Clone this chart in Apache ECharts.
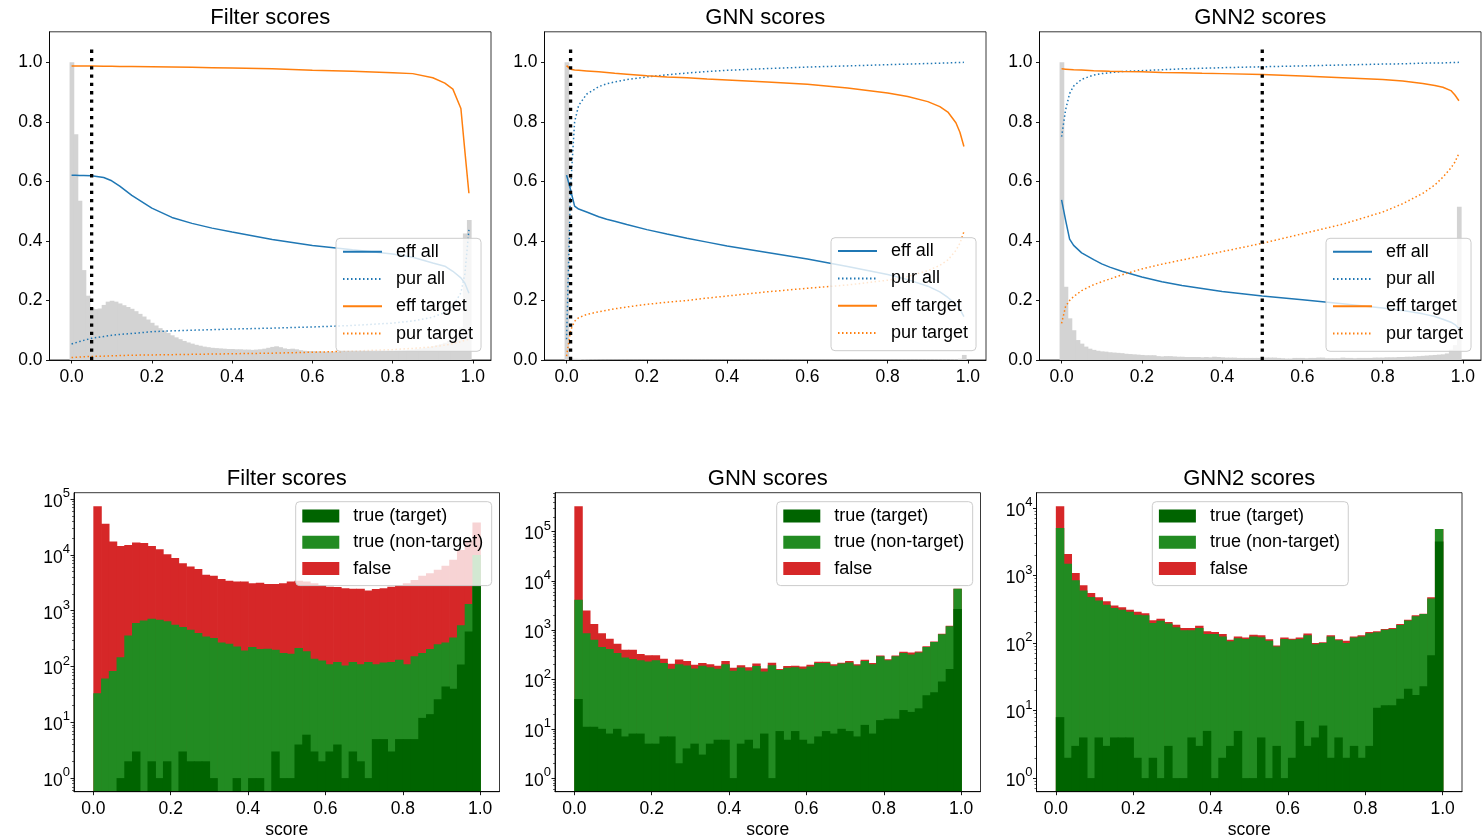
<!DOCTYPE html>
<html><head><meta charset="utf-8">
<script src="https://cdn.jsdelivr.net/npm/echarts@6/dist/echarts.min.js"></script>
<style>html,body{margin:0;padding:0;background:#fff}#c{width:1483px;height:838px}</style>
</head><body><div id="c"></div>
<script>
// ---------------- DATA ----------------
const panelTitles = ['Filter scores', 'GNN scores', 'GNN2 scores'];
const lineNames = ['eff all', 'pur all', 'eff target', 'pur target'];
const histNames = ['true (target)', 'true (non-target)', 'false'];
const xTicks = [0, 0.2, 0.4, 0.6, 0.8, 1.0];
const yTicksTop = [0, 0.2, 0.4, 0.6, 0.8, 1.0];
const logTicks = [1, 10, 100, 1000, 10000, 100000];

// score thresholds at which the curves are read
const cuts = [0, 0.01, 0.02, 0.03, 0.05, 0.08, 0.1, 0.12, 0.15, 0.2, 0.25, 0.3, 0.35, 0.4, 0.5, 0.6, 0.7, 0.8, 0.85, 0.9, 0.93, 0.95, 0.97, 0.98, 0.99];
const thresholds = [0.05, 0.01, 0.5];

const filterEffAll = [0.621, 0.621, 0.620, 0.620, 0.619, 0.613, 0.602, 0.584, 0.553, 0.510, 0.479, 0.459, 0.443, 0.430, 0.405, 0.385, 0.370, 0.356, 0.345, 0.326, 0.315, 0.298, 0.276, 0.258, 0.224];
const filterPurAll = [0.054, 0.058, 0.062, 0.066, 0.073, 0.079, 0.083, 0.086, 0.089, 0.095, 0.098, 0.100, 0.102, 0.104, 0.107, 0.111, 0.116, 0.124, 0.131, 0.144, 0.160, 0.180, 0.226, 0.290, 0.437];
const filterEffTgt = [0.988, 0.988, 0.988, 0.988, 0.988, 0.987, 0.987, 0.986, 0.986, 0.985, 0.984, 0.983, 0.982, 0.981, 0.978, 0.973, 0.970, 0.965, 0.962, 0.948, 0.930, 0.910, 0.845, 0.700, 0.560];
const filterPurTgt = [0.008, 0.009, 0.010, 0.011, 0.012, 0.013, 0.014, 0.015, 0.016, 0.017, 0.018, 0.019, 0.020, 0.021, 0.023, 0.026, 0.030, 0.035, 0.039, 0.044, 0.050, 0.055, 0.062, 0.066, 0.070];

const gnnEffAll = [0.621, 0.571, 0.517, 0.507, 0.497, 0.481, 0.473, 0.466, 0.455, 0.438, 0.423, 0.409, 0.396, 0.383, 0.361, 0.339, 0.314, 0.287, 0.270, 0.248, 0.229, 0.210, 0.187, 0.170, 0.146];
const gnnPurAll = [0.070, 0.580, 0.800, 0.855, 0.893, 0.918, 0.928, 0.934, 0.942, 0.951, 0.958, 0.964, 0.969, 0.973, 0.979, 0.984, 0.988, 0.992, 0.994, 0.996, 0.997, 0.998, 0.999, 0.999, 1.000];
const gnnEffTgt = [0.989, 0.977, 0.974, 0.973, 0.971, 0.968, 0.966, 0.963, 0.960, 0.955, 0.951, 0.948, 0.944, 0.941, 0.934, 0.926, 0.914, 0.897, 0.885, 0.868, 0.851, 0.833, 0.797, 0.765, 0.717];
const gnnPurTgt = [0.013, 0.100, 0.130, 0.142, 0.153, 0.162, 0.167, 0.172, 0.178, 0.187, 0.194, 0.200, 0.208, 0.215, 0.229, 0.241, 0.252, 0.268, 0.281, 0.300, 0.318, 0.336, 0.368, 0.392, 0.431];

const gnn2EffAll = [0.538, 0.470, 0.406, 0.385, 0.360, 0.337, 0.323, 0.312, 0.298, 0.279, 0.263, 0.250, 0.240, 0.230, 0.215, 0.202, 0.189, 0.175, 0.166, 0.155, 0.146, 0.137, 0.127, 0.119, 0.106];
const gnn2PurAll = [0.750, 0.840, 0.895, 0.920, 0.943, 0.957, 0.962, 0.965, 0.969, 0.972, 0.975, 0.978, 0.980, 0.982, 0.985, 0.988, 0.991, 0.994, 0.995, 0.997, 0.998, 0.998, 0.999, 0.999, 1.000];
const gnn2EffTgt = [0.978, 0.977, 0.976, 0.975, 0.974, 0.972, 0.971, 0.970, 0.969, 0.968, 0.966, 0.965, 0.963, 0.962, 0.959, 0.954, 0.948, 0.942, 0.937, 0.929, 0.922, 0.916, 0.905, 0.890, 0.871];
const gnn2PurTgt = [0.123, 0.180, 0.200, 0.213, 0.233, 0.253, 0.263, 0.272, 0.286, 0.306, 0.322, 0.336, 0.350, 0.364, 0.392, 0.424, 0.456, 0.497, 0.525, 0.560, 0.588, 0.614, 0.645, 0.665, 0.694];

// normalised score histograms (100 bins of 0.01, centred at 0.00 ... 0.99)
const filterHist = [1.000, 0.758, 0.535, 0.302, 0.216, 0.175, 0.171, 0.173, 0.185, 0.196,
  0.199, 0.196, 0.190, 0.184, 0.178, 0.172, 0.164, 0.155, 0.146, 0.136,
  0.125, 0.116, 0.107, 0.099, 0.091, 0.083, 0.076, 0.070, 0.064, 0.059,
  0.055, 0.051, 0.048, 0.045, 0.043, 0.041, 0.040, 0.039, 0.038, 0.037,
  0.037, 0.036, 0.036, 0.035, 0.035, 0.034, 0.035, 0.036, 0.038, 0.041,
  0.044, 0.046, 0.043, 0.039, 0.037, 0.038, 0.036, 0.033, 0.031, 0.030,
  0.030, 0.029, 0.029, 0.028, 0.028, 0.028, 0.028, 0.028, 0.027, 0.027,
  0.027, 0.027, 0.027, 0.028, 0.028, 0.028, 0.028, 0.029, 0.029, 0.030,
  0.030, 0.031, 0.032, 0.033, 0.034, 0.035, 0.037, 0.039, 0.041, 0.044,
  0.047, 0.050, 0.054, 0.058, 0.064, 0.072, 0.085, 0.110, 0.425, 0.470];
const gnnHist = [1.000, 0.005, 0.004, 0.0037, 0.0022, 0.0019, 0.0014, 0.0013, 0.0010, 0.0009,
  0.0008, 0.0007, 0.0007, 0.0006, 0.0006, 0.0005, 0.0005, 0.0005, 0.0004, 0.0004,
  0.0004, 0.0004, 0.0004, 0.0004, 0.0003, 0.0003, 0.0003, 0.0003, 0.0003, 0.0003,
  0.0003, 0.0003, 0.0003, 0.0003, 0.0003, 0.0003, 0.0003, 0.0003, 0.0003, 0.0003,
  0.0003, 0.0003, 0.0003, 0.0003, 0.0003, 0.0003, 0.0003, 0.0003, 0.0003, 0.0003,
  0.0003, 0.0003, 0.0003, 0.0003, 0.0003, 0.0003, 0.0003, 0.0003, 0.0003, 0.0003,
  0.0003, 0.0003, 0.0003, 0.0003, 0.0003, 0.0003, 0.0003, 0.0003, 0.0003, 0.0003,
  0.0003, 0.0003, 0.0003, 0.0003, 0.0003, 0.0003, 0.0003, 0.0003, 0.0004, 0.0004,
  0.0004, 0.0004, 0.0004, 0.0005, 0.0005, 0.0005, 0.0006, 0.0006, 0.0007, 0.0007,
  0.0008, 0.0009, 0.0010, 0.0011, 0.0013, 0.0013, 0.0018, 0.0020, 0.0042, 0.0170];
const gnn2Hist = [1.000, 0.246, 0.140, 0.100, 0.067, 0.055, 0.045, 0.038, 0.034, 0.031,
  0.029, 0.028, 0.026, 0.025, 0.024, 0.023, 0.021, 0.020, 0.019, 0.018,
  0.017, 0.016, 0.016, 0.016, 0.013, 0.012, 0.013, 0.013, 0.012, 0.011,
  0.011, 0.010, 0.010, 0.010, 0.010, 0.009, 0.010, 0.009, 0.011, 0.010,
  0.009, 0.008, 0.008, 0.008, 0.007, 0.007, 0.007, 0.007, 0.007, 0.007,
  0.008, 0.008, 0.008, 0.008, 0.007, 0.006, 0.005, 0.005, 0.007, 0.007,
  0.007, 0.006, 0.007, 0.007, 0.008, 0.008, 0.006, 0.006, 0.006, 0.006,
  0.008, 0.007, 0.007, 0.006, 0.007, 0.007, 0.007, 0.007, 0.008, 0.008,
  0.008, 0.009, 0.009, 0.009, 0.010, 0.010, 0.011, 0.011, 0.012, 0.013,
  0.014, 0.015, 0.016, 0.017, 0.018, 0.019, 0.022, 0.035, 0.050, 0.515];

// stacked score histograms (50 bins of 0.02); levels read as the tops of each stacked layer
const filterTarget = [0, 0, 0, 1, 2, 3, 0, 2, 1, 2, 0, 3, 2, 2, 2, 1, 0, 0, 1, 0, 1, 1, 0, 3, 1, 1, 4, 6, 3, 2, 3, 4, 1, 3, 2, 1, 5, 5, 3, 5, 5, 5, 12, 14, 26, 44, 40, 109, 425, 2900];
const filterTrueTop = [33, 61, 83, 147, 360, 600, 670, 720, 690, 645, 560, 510, 455, 400, 345, 323, 270, 255, 228, 194, 223, 205, 208, 199, 174, 170, 214, 187, 138, 128, 110, 121, 104, 121, 110, 121, 110, 118, 121, 132, 110, 152, 174, 205, 250, 270, 330, 550, 1320, 10000];
const filterAllTop = [74300, 36000, 17400, 14500, 15100, 16600, 16300, 14500, 12600, 10300, 8800, 7100, 6200, 5600, 4400, 4250, 3700, 3450, 3330, 3330, 3100, 3180, 3020, 3020, 3100, 3330, 3450, 3330, 3100, 2900, 2700, 2650, 2520, 2470, 2470, 2300, 2450, 2520, 2700, 2900, 3100, 3560, 4250, 4700, 5400, 6400, 8200, 12300, 18200, 38000];

const gnnTarget = [40, 11, 11, 10, 8, 10, 7, 8, 8, 5, 5, 7, 7, 2, 4, 5, 3, 5, 6, 6, 1, 5, 6, 4, 8, 1, 9, 6, 9, 6, 5, 7, 9, 8, 10, 9, 7, 12, 8, 15, 16, 16, 24, 22, 26, 48, 55, 91, 163, 2700];
const gnnTrueTop = [4150, 870, 640, 455, 415, 345, 280, 260, 245, 232, 245, 215, 165, 203, 193, 167, 190, 178, 165, 205, 150, 176, 153, 187, 146, 195, 155, 174, 178, 165, 184, 215, 215, 190, 210, 222, 193, 236, 205, 295, 245, 295, 345, 323, 355, 455, 575, 830, 1200, 6900];
const gnnAllTop = [326000, 2500, 1330, 870, 670, 530, 400, 400, 330, 310, 310, 265, 208, 255, 236, 200, 215, 203, 190, 236, 173, 195, 178, 212, 168, 218, 163, 187, 190, 183, 200, 228, 228, 205, 219, 236, 205, 251, 215, 307, 258, 307, 366, 355, 370, 470, 590, 850, 1230, 6900];

const gnn2Target = [8, 2, 3, 4, 1, 4, 3, 4, 4, 4, 2, 1, 2, 1, 3, 1, 1, 4, 3, 5, 1, 2, 3, 5, 1, 1, 4, 1, 3, 1, 2, 7, 3, 4, 6, 2, 4, 2, 3, 2, 3, 11, 12, 12, 15, 21, 17, 23, 66, 3200];
const gnn2TrueTop = [5050, 1500, 850, 600, 480, 425, 370, 330, 310, 290, 263, 257, 198, 214, 194, 172, 155, 155, 167, 136, 136, 125, 106, 118, 115, 125, 122, 108, 89, 115, 112, 115, 130, 96, 100, 125, 110, 100, 121, 125, 140, 144, 158, 162, 185, 215, 250, 270, 455, 4900];
const gnn2AllTop = [10600, 2080, 1090, 715, 550, 475, 415, 360, 340, 310, 290, 277, 217, 230, 205, 187, 167, 167, 180, 149, 146, 136, 112, 125, 121, 133, 130, 114, 92, 121, 116, 121, 138, 100, 103, 130, 114, 108, 125, 130, 146, 149, 162, 167, 191, 222, 257, 272, 475, 4900];

// ---------------- STYLE / LAYOUT ----------------
const FF = "'Liberation Sans', Arial, Helvetica, sans-serif";
const C_BLUE = '#1f77b4', C_ORANGE = '#ff7f0e', C_GRAY = '#d3d3d3';
const C_DKGREEN = '#006400', C_GREEN = '#228b22', C_RED = '#d62728';
const DOT = [1.5, 2.5];

const topLefts = [49.5, 544.5, 1039.5];
const topGrid = { top: 31.8, width: 441.5, height: 328.2 };
const botLefts = [74, 555, 1036.5];
const botGrid = { top: 492.7, width: 425.5, height: 299 };
const topLegendPos = [[336, 238.3], [831, 237.7], [1326, 238.3]];
const botLegendPos = [[295.7, 501.7], [776.7, 501.7], [1152.3, 501.7]];

const topLines = [
  [filterEffAll, filterPurAll, filterEffTgt, filterPurTgt],
  [gnnEffAll, gnnPurAll, gnnEffTgt, gnnPurTgt],
  [gnn2EffAll, gnn2PurAll, gnn2EffTgt, gnn2PurTgt]
];
const topHists = [filterHist, gnnHist, gnn2Hist];
const botStacks = [
  [filterTarget, filterTrueTop, filterAllTop],
  [gnnTarget, gnnTrueTop, gnnAllTop],
  [gnn2Target, gnn2TrueTop, gnn2AllTop]
];
const lineStyles = [
  { color: C_BLUE, type: 'solid' }, { color: C_BLUE, type: DOT },
  { color: C_ORANGE, type: 'solid' }, { color: C_ORANGE, type: DOT }
];

// ---------------- BUILD ----------------
const grid = [], xAxis = [], yAxis = [], series = [], legend = [], title = [];
const axisLineStyle = { show: true, onZero: false, lineStyle: { color: '#000', width: 0.9 } };
const labelStyle = { color: '#000', fontFamily: FF, fontSize: 17.5 };

function rectItem(api, params, xa, xb, v, color) {
  const p0 = api.coord([xa, v]);
  const p1 = api.coord([xb, v]);
  const yb = params.coordSys.y + params.coordSys.height;
  return { type: 'rect', shape: { x: p0[0], y: p0[1], width: p1[0] - p0[0] + 0.7, height: yb - p0[1] },
           style: { fill: color } };
}

for (let i = 0; i < 3; i++) {
  grid.push({ left: topLefts[i], top: topGrid.top, width: topGrid.width, height: topGrid.height,
              outerBoundsMode: 'none', containLabel: false,
              show: true, borderColor: '#222', borderWidth: 0.9, backgroundColor: '#fff' });
  xAxis.push({ type: 'value', gridIndex: i, min: -0.055, max: 1.045, z: 5,
    axisLine: axisLineStyle, splitLine: { show: false },
    axisTick: { show: true, length: 3.5, lineStyle: { color: '#000', width: 0.9 }, customValues: xTicks },
    axisLabel: Object.assign({ margin: 8.5, customValues: xTicks, formatter: v => v.toFixed(1) }, labelStyle) });
  yAxis.push({ type: 'value', gridIndex: i, min: 0, max: 1.1025, z: 5,
    axisLine: axisLineStyle, splitLine: { show: false },
    axisTick: { show: true, length: 3.5, lineStyle: { color: '#000', width: 0.9 }, customValues: yTicksTop },
    axisLabel: Object.assign({ margin: 7, customValues: yTicksTop, formatter: v => v.toFixed(1) }, labelStyle) });
  title.push({ text: panelTitles[i], left: topLefts[i] + topGrid.width / 2, top: 7, textAlign: 'center', padding: 0,
    textStyle: { fontFamily: FF, fontSize: 22, fontWeight: 'normal', color: '#000' } });

  const hist = topHists[i];
  series.push({ type: 'custom', name: 'hist', xAxisIndex: i, yAxisIndex: i, z: 1, silent: true,
    data: hist.map((v, k) => [k * 0.01, v]), encode: { x: 0, y: 1 },
    renderItem: (params, api) => {
      const x = api.value(0), v = api.value(1);
      if (!(v > 0)) return null;
      return rectItem(api, params, x - 0.005, x + 0.005, v, C_GRAY);
    } });
  topLines[i].forEach((vals, s) => {
    series.push({ type: 'line', name: lineNames[s], xAxisIndex: i, yAxisIndex: i, z: 3,
      symbol: 'none', showSymbol: false, smooth: false,
      itemStyle: { color: lineStyles[s].color },
      lineStyle: { color: lineStyles[s].color, width: 1.5, type: lineStyles[s].type, cap: 'butt' },
      data: cuts.map((c, k) => [c, vals[k]]) });
  });
  series.push({ type: 'line', name: 'threshold', xAxisIndex: i, yAxisIndex: i, z: 4, symbol: 'none',
    lineStyle: { color: '#000', width: 3.3, type: [3.3, 5], cap: 'butt' },
    data: [[thresholds[i], 0], [thresholds[i], 1.05]] });
  legend.push({ data: lineNames, orient: 'vertical', left: topLegendPos[i][0], top: topLegendPos[i][1],
    itemWidth: 39, itemHeight: 18, itemGap: 9.3, padding: [4.4, 8, 8.7, 6], selectedMode: false,
    itemStyle: { opacity: 0 },
    backgroundColor: 'rgba(255,255,255,0.8)', borderColor: '#cccccc', borderWidth: 1, borderRadius: 4,
    textStyle: { fontFamily: FF, fontSize: 18, lineHeight: 18, color: '#000', padding: [0, 0, 0, 9] } });
}

const supRich = {
  b: { fontFamily: FF, fontSize: 17.5, color: '#000', lineHeight: 24, verticalAlign: 'bottom' },
  s: { fontFamily: FF, fontSize: 13, color: '#000', lineHeight: 13, verticalAlign: 'top' }
};

for (let j = 0; j < 3; j++) {
  const gi = 3 + j;
  const [tgt, trueTop, allTop] = botStacks[j];
  const R = Math.log10(Math.max(...allTop));
  const ymin = Math.pow(10, -0.05 * R), ymax = Math.pow(10, 1.05 * R);
  grid.push({ left: botLefts[j], top: botGrid.top, width: botGrid.width, height: botGrid.height,
              outerBoundsMode: 'none', containLabel: false,
              show: true, borderColor: '#222', borderWidth: 0.9, backgroundColor: '#fff' });
  xAxis.push({ type: 'value', gridIndex: gi, min: -0.05, max: 1.05, z: 5,
    axisLine: axisLineStyle, splitLine: { show: false },
    axisTick: { show: true, length: 3.5, lineStyle: { color: '#000', width: 0.9 }, customValues: xTicks },
    axisLabel: Object.assign({ margin: 8, customValues: xTicks, formatter: v => v.toFixed(1) }, labelStyle),
    name: 'score', nameLocation: 'middle', nameGap: 29,
    nameTextStyle: { fontFamily: FF, fontSize: 17.5, color: '#000' } });
  const majors = logTicks.filter(v => v >= ymin && v <= ymax);
  yAxis.push({ type: 'log', logBase: 10, gridIndex: gi, min: ymin, max: ymax, z: 5,
    axisLine: axisLineStyle, splitLine: { show: false },
    axisTick: { show: true, length: 3.5, lineStyle: { color: '#000', width: 0.9 }, customValues: majors },
    axisLabel: { margin: 4, customValues: majors, rich: supRich,
      formatter: v => '{b|10}{s|' + Math.round(Math.log10(v)) + '}' } });
  title.push({ text: panelTitles[j], left: botLefts[j] + botGrid.width / 2, top: 467.5, textAlign: 'center', padding: 0,
    textStyle: { fontFamily: FF, fontSize: 22, fontWeight: 'normal', color: '#000' } });

  const levels = [allTop, trueTop, tgt];
  const cols = [C_RED, C_GREEN, C_DKGREEN];
  const names = ['false', 'true (non-target)', 'true (target)'];
  levels.forEach((arr, s) => {
    series.push({ type: 'custom', name: names[s], xAxisIndex: gi, yAxisIndex: gi, z: 1 + s * 0.1,
      itemStyle: { color: cols[s] },
      data: arr.map((v, k) => [k * 0.02, (k + 1) * 0.02, v]), encode: { x: [0, 1], y: 2 },
      renderItem: (params, api) => {
        const v = api.value(2);
        if (!(v > 0)) return null;
        return rectItem(api, params, api.value(0), api.value(1), v, cols[s]);
      } });
  });
  legend.push({ data: histNames, orient: 'vertical', left: botLegendPos[j][0], top: botLegendPos[j][1],
    icon: 'rect', itemWidth: 37, itemHeight: 13, itemGap: 8.3, padding: [5.3, 8.3, 8, 6.6], selectedMode: false,
    backgroundColor: 'rgba(255,255,255,0.8)', borderColor: '#cccccc', borderWidth: 1, borderRadius: 4,
    textStyle: { fontFamily: FF, fontSize: 18, lineHeight: 18, color: '#000', padding: [0, 0, 0, 9] } });
}

// minor log ticks (second log axis on each bottom panel, ticks only)
for (let j = 0; j < 3; j++) {
  const gi = 3 + j;
  const allTop = botStacks[j][2];
  const R = Math.log10(Math.max(...allTop));
  const ymin = Math.pow(10, -0.05 * R), ymax = Math.pow(10, 1.05 * R);
  const minors = [];
  for (let n = -1; n <= 6; n++) for (let m = 2; m <= 9; m++) {
    const v = m * Math.pow(10, n);
    if (v >= ymin && v <= ymax) minors.push(v);
  }
  yAxis.push({ type: 'log', logBase: 10, gridIndex: gi, min: ymin, max: ymax, position: 'left', offset: 0, z: 5,
    axisLine: { show: false, onZero: false }, splitLine: { show: false }, axisLabel: { show: false, customValues: minors },
    axisTick: { show: true, length: 2, lineStyle: { color: '#000', width: 0.6 }, customValues: minors } });
}

const chart = echarts.init(document.getElementById('c'), null, { renderer: 'canvas' });
chart.setOption({ animation: false, backgroundColor: '#fff', grid, xAxis, yAxis, series, legend, title });
</script></body></html>
